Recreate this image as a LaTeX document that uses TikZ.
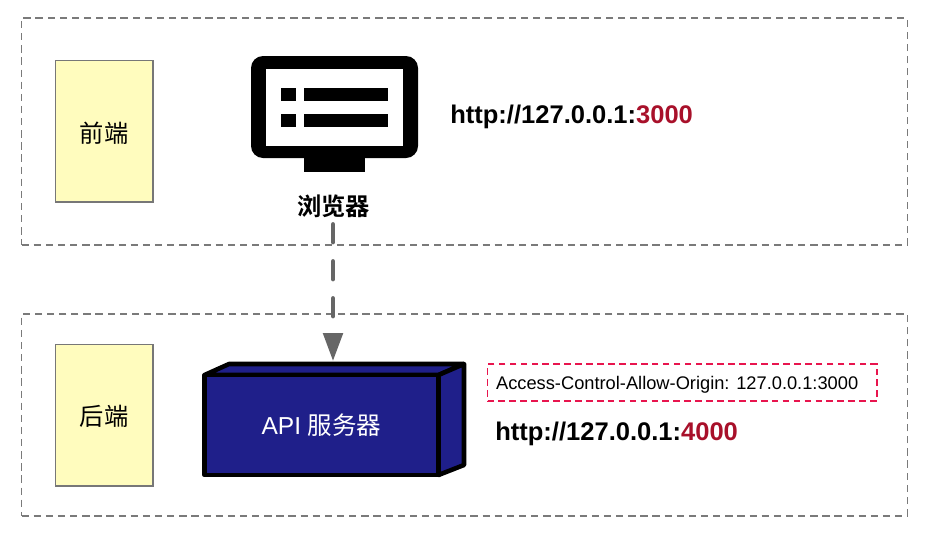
\documentclass[tikz,border=0pt]{standalone}
\usepackage{fontspec}
\setmainfont{Liberation Sans}
\newfontfamily\cjk{Noto Sans CJK SC}
\newfontfamily\cjkb{Noto Sans CJK SC Bold}
\usetikzlibrary{arrows.meta}
\definecolor{framegray}{HTML}{7A7A7A}
\definecolor{noteyellow}{HTML}{FFFCBE}
\definecolor{notegray}{HTML}{777777}
\definecolor{apiblue}{HTML}{1F1F8A}
\definecolor{portred}{HTML}{A8102A}
\definecolor{notered}{HTML}{E8154E}
\definecolor{arrowgray}{HTML}{666666}
\tikzset{
  frame/.style={draw=framegray,dash pattern=on 5.5pt off 3.6pt,line width=1.3pt,anchor=north west,inner sep=0pt,outer sep=0pt},
  note/.style={draw=notegray,fill=noteyellow,line width=1.2pt,anchor=north west,inner sep=0pt,outer sep=0pt,minimum width=73pt,minimum height=106pt,font=\cjk\fontsize{18.2}{20}\selectfont},
  url/.style={anchor=west,inner sep=0pt,font=\bfseries\fontsize{19.15}{22}\selectfont},
  boxedge/.style={line width=3.4pt,line join=round,draw=black,fill=apiblue},
}
\begin{document}
\begin{tikzpicture}[x=0.75pt,y=-0.75pt]
\useasboundingbox (0,0) rectangle (927,532);
% frames
\node[frame,minimum width=664.5pt,minimum height=170.25pt] (front) at (21.5,18) {};
\node[frame,minimum width=664.5pt,minimum height=151.5pt] (back) at (21.5,314) {};
% notes
\node[note] (fe) at (55.5,60.5) {\raisebox{-8.7pt}[0pt][0pt]{前端}};
\node[note] (be) at (55.5,344.5) {\raisebox{-7.8pt}[0pt][0pt]{后端}};
% monitor
\fill[black,rounded corners=9pt] (251,56) rectangle (418,158);
\fill[white] (266,69) rectangle (403,146);
\fill[black] (304,158) rectangle (365,172);
\fill[black] (281,88) rectangle (296,101);
\fill[black] (304,88) rectangle (388,101);
\fill[black] (281,114) rectangle (296,127);
\fill[black] (304,114) rectangle (388,127);
\node[inner sep=0pt,font=\cjkb\fontsize{18.2}{20}\selectfont] (browser) at (333.5,206) {浏览器};
\node[url] (url1) at (450,116.5) {http://127.0.0.1:\textcolor{portred}{3000}};
% API box
\draw[boxedge] (204.5,375) -- (229,364) -- (464,364) -- (438.5,375) -- cycle;
\draw[boxedge] (438.5,375) -- (464,364) -- (464,465) -- (438.5,475) -- cycle;
\node[boxedge,anchor=north west,inner sep=0pt,outer sep=0pt,minimum width=175.5pt,minimum height=75pt,text=white,font=\fontsize{18.4}{20}\selectfont] (api) at (204.5,375) {\raisebox{-7.2pt}[0pt][0pt]{API {\cjk 服务器}}};
\coordinate (apitop) at (333,361);
% note box and url
\node[draw=notered,dash pattern=on 5pt off 3.2pt,line width=1.4pt,anchor=north west,inner sep=0pt,outer sep=0pt,minimum width=292pt,minimum height=28pt,font=\fontsize{13.7}{16}\selectfont] (acao) at (487.5,364) {\raisebox{-5.2pt}[0pt][0pt]{Access-Control-Allow-Origin: 127.0.0.1:3000}\rule{7.5pt}{0pt}};
\node[url] (url2) at (495,433.5) {http://127.0.0.1:\textcolor{portred}{4000}};
% connector
\draw[draw=arrowgray,line width=3.2pt,line cap=round,dash pattern=on 13.5pt off 14.25pt,-{Triangle[length=21pt,width=14.5pt,fill=arrowgray,line cap=butt]}] (browser.south -| apitop) ++(0,6.5) -- (apitop);
\end{tikzpicture}
\end{document}
